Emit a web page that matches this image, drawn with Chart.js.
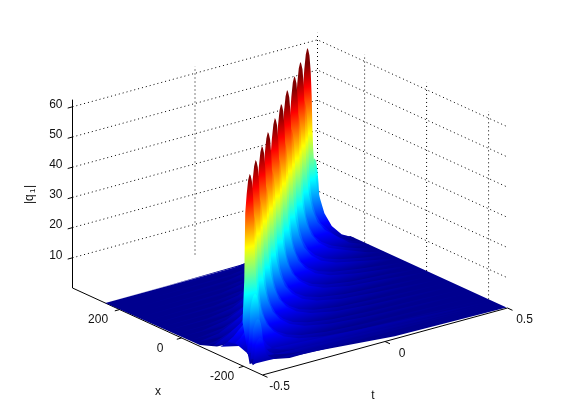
<!DOCTYPE html>
<html>
<head>
<meta charset="utf-8">
<style>
  html, body { margin: 0; padding: 0; background: #fff; }
  canvas { display: block; }
</style>
<script src="https://cdn.jsdelivr.net/npm/chart.js@4/dist/chart.umd.min.js"></script>
</head>
<body>
<canvas id="surfaceChart" width="561" height="420"></canvas>
<script>
// axis ticks
const xTicks = [-200, 0, 200];
const tTicks = [-0.5, 0, 0.5];
const zTicks = [10, 20, 30, 40, 50, 60];

// surface rows, back to front: x of the row, t and height of its crest
const rowX = [246, 232.5, 208.6, 184.7, 160.8, 136.8, 112.9, 89, 65.1, 41.2, 17.6, -6, -29.9, -53.8, -77.7, -101.6, -125.5, -149.4, -173, -196.6, -212, -221, -228];
const rowT = [0.352, 0.307, 0.262, 0.218, 0.175, 0.133, 0.088, 0.043, 0, -0.042, -0.085, -0.127, -0.172, -0.216, -0.258, -0.301, -0.344, -0.387, -0.429, -0.471, -0.47, -0.47, -0.47];
const rowZ = [29, 67.2, 52, 66.8, 52, 66.2, 51, 65.9, 51, 65.4, 50, 64.8, 50, 64.4, 49, 63.9, 49, 63.4, 48, 62.9, 24, 16, 10];

// crest shape: distance in t from the crest, and share of the crest height
const profileDt = [-1, -0.6, -0.3, -0.2, -0.14, -0.09, -0.05, -0.03, -0.022, -0.018, -0.012, -0.006, 0, 0.004, 0.009, 0.014, 0.018, 0.021, 0.024, 0.028, 0.036, 0.05, 0.07, 0.1, 0.14, 0.2, 0.3, 0.45, 0.7, 1];
const profileF = [0.003, 0.006, 0.015, 0.035, 0.07, 0.11, 0.16, 0.2, 0.45, 0.8, 0.9, 0.97, 1, 0.99, 0.96, 0.88, 0.76, 0.6, 0.5, 0.42, 0.33, 0.25, 0.185, 0.135, 0.095, 0.065, 0.04, 0.024, 0.012, 0.004];

// front edge and near-left edge of the surface
const frontX = [-230, -243, -252, -252, -252, -258];
const frontT = [-0.5, -0.489, -0.378, -0.296, 0.051, 0.5];
const frontZ = [1.8, 3.9, 2.5, 2.6, 0.2, 0];
const leftX = [246, -59, -114, -163, -198, -211];
const leftZ = [0, 0.4, 2.5, 6, 11, 5];

const surfaceBackX = 246;
const xRange = [-261, 352];
const tRange = [-0.5, 0.5];
const zTop = 62.3;
const colorMax = 62;
const edgeFade = 0.14;

// jet colormap
const jetStops = [
  [0, 'rgb(0,0,143)'], [0.125, 'rgb(0,0,255)'], [0.375, 'rgb(0,255,255)'],
  [0.625, 'rgb(255,255,0)'], [0.875, 'rgb(255,0,0)'], [1, 'rgb(128,0,0)']
];

// the view: corner x min / t min on the page and the three axis directions
const origin = { x: 262.5, y: 375 };
const tDir = { x: 245, y: -67 };
const xDir = { x: -190, y: -87 };
const zPx = 3.02;

function project(x, t, z) {
  const a = (t - tRange[0]) / (tRange[1] - tRange[0]);
  const b = (x - xRange[0]) / (xRange[1] - xRange[0]);
  return {
    x: origin.x + a * tDir.x + b * xDir.x,
    y: origin.y + a * tDir.y + b * xDir.y - z * zPx
  };
}

const canvas = document.getElementById('surfaceChart');
const ctx = canvas.getContext('2d');

// colour follows height: the lines of equal colour run along t
function jetFill(x) {
  const len = Math.hypot(tDir.x, tDir.y);
  const nx = -tDir.y / len, ny = tDir.x / len;
  const d = zPx * colorMax * ny;
  const p0 = project(x, 0, 0);
  const g = ctx.createLinearGradient(p0.x, p0.y, p0.x - nx * d, p0.y - ny * d);
  jetStops.forEach(s => g.addColorStop(s[0], s[1]));
  return g;
}

function rowCurve(i) {
  const pts = [];
  profileDt.forEach((dt, j) => {
    let t = rowT[i] + dt;
    let f = profileF[j];
    if (t < tRange[0] || t > tRange[1]) {
      const other = t < tRange[0] ? j + 1 : j - 1;
      if (other < 0 || other >= profileDt.length) return;
      const tOther = rowT[i] + profileDt[other];
      if (tOther < tRange[0] || tOther > tRange[1]) return;
      const edge = t < tRange[0] ? tRange[0] : tRange[1];
      f = f + (profileF[other] - f) * (edge - t) / (tOther - t);
      t = edge;
    }
    // the tails die out towards the far t edge
    const fade = Math.min(1, (tRange[1] - t) / edgeFade);
    pts.push({ t: t, z: rowZ[i] * f * fade });
  });
  return pts;
}

function lineSet(points, color, dash) {
  return {
    type: 'line', data: points, borderColor: color, borderWidth: 1, borderDash: dash || [],
    pointRadius: 0, tension: 0, fill: false
  };
}

function shapeSet(points, fillStyle) {
  return {
    type: 'line', data: points, backgroundColor: fillStyle, borderWidth: 0,
    pointRadius: 0, tension: 0, fill: 'shape'
  };
}

const datasets = [];
const dotted = [1, 3];

// back walls
zTicks.forEach(z => {
  datasets.push(lineSet([project(xRange[1], tRange[0], z), project(xRange[1], tRange[1], z), project(xRange[0], tRange[1], z)], '#000', dotted));
});
tTicks.slice(1).forEach(t => {
  datasets.push(lineSet([project(xRange[1], t, 0), project(xRange[1], t, zTop)], '#000', dotted));
});
xTicks.forEach(x => {
  datasets.push(lineSet([project(x, tRange[1], 0), project(x, tRange[1], zTop)], '#000', dotted));
});

// axis lines and tick marks
datasets.push(lineSet([project(xRange[1], tRange[0], zTop), project(xRange[1], tRange[0], 0), project(xRange[0], tRange[0], 0), project(xRange[0], tRange[1], 0)], '#000'));
zTicks.forEach(z => {
  const p = project(xRange[1], tRange[0], z);
  datasets.push(lineSet([p, { x: p.x - 4.8, y: p.y + 1.3 }], '#000'));
});
xTicks.forEach(x => {
  const p = project(x, tRange[0], 0);
  datasets.push(lineSet([p, { x: p.x - 4.8, y: p.y + 1.3 }], '#000'));
});
tTicks.forEach(t => {
  const p = project(xRange[0], t, 0);
  datasets.push(lineSet([p, { x: p.x + 5, y: p.y + 2.3 }], '#000'));
});

// floor of the surface
const leftPts = leftX.map((x, i) => project(x, tRange[0], leftZ[i]));
const frontPts = frontX.map((x, i) => project(x, frontT[i], frontZ[i]));
const basePts = leftPts.concat(frontPts, [project(surfaceBackX, tRange[1], 0), leftPts[0]]);
datasets.push(shapeSet(basePts, 'rgb(0,0,143)'));

// rows of the surface, painted from the back to the front
rowX.forEach((x, i) => {
  const curve = rowCurve(i);
  const pts = curve.map(p => project(x, p.t, p.z));
  pts.push(project(x, curve[curve.length - 1].t, 0));
  // low rows at the front stay lifted so the white notch above the axis remains
  if (rowZ[i] > 40) pts.push(project(x, rowT[i], 0));
  pts.push(pts[0]);
  datasets.push(shapeSet(pts, jetFill(x)));
});

// Chart.js paints the first dataset last, the list above is in painting order
datasets.reverse();

// text is placed around the projected ticks
const textPlugin = {
  id: 'axisText',
  afterDraw(chart) {
    const c = chart.ctx;
    c.save();
    c.fillStyle = '#111';
    c.font = '12px "Liberation Sans", Arial, sans-serif';
    c.textBaseline = 'middle';
    c.textAlign = 'right';
    zTicks.forEach(z => {
      const p = project(xRange[1], tRange[0], z);
      c.fillText(String(z), p.x - 10, p.y - 2.5);
    });
    c.textAlign = 'center';
    xTicks.forEach(x => {
      const p = project(x, tRange[0], 0);
      c.fillText(String(x), p.x - 21.5, p.y + 10.5);
    });
    tTicks.forEach(t => {
      const p = project(xRange[0], t, 0);
      c.fillText(String(t), p.x + 17, p.y + 12);
    });
    c.fillText('x', 158, 392);
    c.fillText('t', 373, 396);
    c.translate(30, 195);
    c.rotate(-Math.PI / 2);
    c.textAlign = 'left';
    c.fillText('|q', -9, 0);
    c.font = '8px "Liberation Sans", Arial, sans-serif';
    c.fillText('1', 2, 3);
    c.font = '12px "Liberation Sans", Arial, sans-serif';
    c.fillText('|', 7, 0);
    c.restore();
  }
};

new Chart(ctx, {
  type: 'line',
  data: { datasets: datasets },
  plugins: [textPlugin],
  options: {
    responsive: false,
    animation: false,
    layout: { padding: 0 },
    plugins: { legend: { display: false }, tooltip: { enabled: false } },
    scales: {
      x: { type: 'linear', display: false, min: 0, max: 561 },
      y: { type: 'linear', display: false, min: 0, max: 420, reverse: true }
    }
  }
});
</script>
</body>
</html>
